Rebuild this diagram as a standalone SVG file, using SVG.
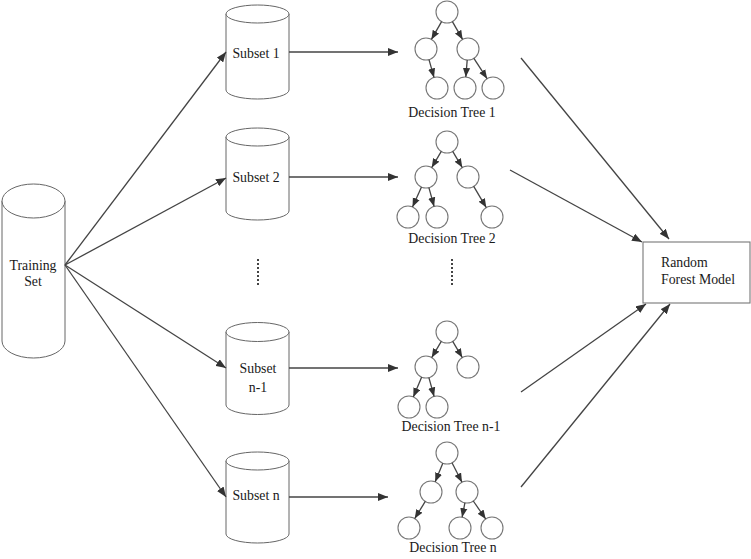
<svg xmlns="http://www.w3.org/2000/svg" width="751" height="559" viewBox="0 0 751 559">
<defs>
<marker id="ah" viewBox="0 0 10 8" refX="10" refY="4" markerWidth="10" markerHeight="8" markerUnits="userSpaceOnUse" orient="auto">
<path d="M0,0 L10,4 L0,8 Z" fill="#333"/>
</marker>
<marker id="ahs" viewBox="0 0 10 8" refX="10" refY="4" markerWidth="9" markerHeight="8" markerUnits="userSpaceOnUse" orient="auto">
<path d="M0,0 L10,4 L0,8 Z" fill="#333"/>
</marker>
</defs>
<style>
text{font-family:"Liberation Serif","Times New Roman",serif;font-size:13.8px;fill:#1a1a1a;text-anchor:middle}
.cyl{fill:#fff;stroke:#666;stroke-width:1}
.c{fill:#fff;stroke:#777;stroke-width:1.1}
.e{stroke:#444;stroke-width:1.3;fill:none;marker-end:url(#ah)}
.t{stroke:#444;stroke-width:1.3;fill:none;marker-end:url(#ahs)}
.dot{stroke:#444;stroke-width:2;stroke-dasharray:2 2}
</style>
<rect width="751" height="559" fill="#fff"/>

<g id="training">
<path class="cyl" d="M2,201 A31.5,17 0 0 1 65,201 L65,341 A31.5,17 0 0 1 2,341 Z"/>
<path class="cyl" fill="none" d="M2,201 A31.5,17 0 0 0 65,201"/>
<text x="33" y="270">Training</text>
<text x="33" y="286">Set</text>
</g>

<g id="subset1">
<path class="cyl" d="M226,14 A31.5,9 0 0 1 289,14 L289,90 A31.5,9 0 0 1 226,90 Z"/>
<path class="cyl" d="M226,14 A31.5,9 0 0 0 289,14"/>
<text x="256" y="58">Subset 1</text>
</g>
<g id="subset2">
<path class="cyl" d="M226,137 A31.5,9 0 0 1 289,137 L289,211 A31.5,9 0 0 1 226,211 Z"/>
<path class="cyl" d="M226,137 A31.5,9 0 0 0 289,137"/>
<text x="256" y="182">Subset 2</text>
</g>
<g id="subsetn1">
<path class="cyl" d="M226,332 A31.5,9.5 0 0 1 289,332 L289,405 A31.5,9.5 0 0 1 226,405 Z"/>
<path class="cyl" d="M226,332 A31.5,9.5 0 0 0 289,332"/>
<text x="258" y="373">Subset</text>
<text x="258" y="392">n-1</text>
</g>
<g id="subsetn">
<path class="cyl" d="M226,461 A31.5,9 0 0 1 289,461 L289,534 A31.5,9 0 0 1 226,534 Z"/>
<path class="cyl" d="M226,461 A31.5,9 0 0 0 289,461"/>
<text x="256" y="500">Subset n</text>
</g>

<g id="tree1">
<circle class="c" cx="447" cy="12" r="11"/>
<circle class="c" cx="426" cy="49" r="11"/>
<circle class="c" cx="468" cy="49" r="11"/>
<circle class="c" cx="437" cy="88" r="11"/>
<circle class="c" cx="465" cy="88" r="11"/>
<circle class="c" cx="493" cy="88" r="11"/>
<line class="t" x1="441.6" y1="21.6" x2="431.4" y2="39.4"/>
<line class="t" x1="452.4" y1="21.6" x2="462.6" y2="39.4"/>
<line class="t" x1="429" y1="59.6" x2="434" y2="77.4"/>
<line class="t" x1="467.2" y1="60" x2="465.8" y2="77"/>
<line class="t" x1="473.9" y1="58.3" x2="487.1" y2="78.7"/>
<text x="452" y="117">Decision Tree 1</text>
</g>
<g id="tree2">
<circle class="c" cx="447" cy="142" r="11"/>
<circle class="c" cx="426" cy="177" r="11"/>
<circle class="c" cx="468" cy="177" r="11"/>
<circle class="c" cx="408" cy="217" r="11"/>
<circle class="c" cx="437" cy="217" r="11"/>
<circle class="c" cx="492" cy="217" r="11"/>
<line class="t" x1="441.3" y1="151.4" x2="431.7" y2="167.6"/>
<line class="t" x1="452.7" y1="151.4" x2="462.3" y2="167.6"/>
<line class="t" x1="421.5" y1="187" x2="412.5" y2="207"/>
<line class="t" x1="428.9" y1="187.6" x2="434.1" y2="206.4"/>
<line class="t" x1="473.7" y1="186.4" x2="486.3" y2="207.6"/>
<text x="452" y="243">Decision Tree 2</text>
</g>
<g id="treen1">
<circle class="c" cx="447" cy="332" r="11"/>
<circle class="c" cx="426" cy="367" r="11"/>
<circle class="c" cx="468" cy="367" r="11"/>
<circle class="c" cx="409" cy="407" r="11"/>
<circle class="c" cx="437" cy="407" r="11"/>
<line class="t" x1="441.3" y1="341.4" x2="431.7" y2="357.6"/>
<line class="t" x1="452.7" y1="341.4" x2="462.3" y2="357.6"/>
<line class="t" x1="421.7" y1="377.1" x2="413.3" y2="396.9"/>
<line class="t" x1="428.9" y1="377.6" x2="434.1" y2="396.4"/>
<text x="451" y="431">Decision Tree n-1</text>
</g>
<g id="treen">
<circle class="c" cx="447" cy="453" r="11"/>
<circle class="c" cx="431" cy="492" r="11"/>
<circle class="c" cx="467" cy="492" r="11"/>
<circle class="c" cx="409" cy="528" r="11"/>
<circle class="c" cx="460" cy="528" r="11"/>
<circle class="c" cx="492" cy="528" r="11"/>
<line class="t" x1="442.8" y1="463.2" x2="435.2" y2="481.8"/>
<line class="t" x1="452" y1="462.8" x2="462" y2="482.2"/>
<line class="t" x1="425.3" y1="501.4" x2="414.7" y2="518.6"/>
<line class="t" x1="464.9" y1="502.8" x2="462.1" y2="517.2"/>
<line class="t" x1="473.3" y1="501" x2="485.7" y2="519"/>
<text x="453" y="552">Decision Tree n</text>
</g>

<g id="rf">
<rect x="643" y="242" width="107" height="61" fill="#fff" stroke="#777" stroke-width="1.1"/>
<text x="661" y="267" style="text-anchor:start">Random</text>
<text x="661" y="284" style="text-anchor:start">Forest Model</text>
</g>

<g id="ellipsis">
<line class="dot" x1="258" y1="259" x2="258" y2="286"/>
<line class="dot" x1="452" y1="259" x2="452" y2="286"/>
</g>

<g id="connectors">
<line class="e" x1="65" y1="265" x2="226" y2="52"/>
<line class="e" x1="65" y1="265" x2="226" y2="178"/>
<line class="e" x1="65" y1="265" x2="226" y2="368"/>
<line class="e" x1="65" y1="265" x2="226" y2="497"/>
<line class="e" x1="289" y1="52" x2="398" y2="52"/>
<line class="e" x1="289" y1="177" x2="398" y2="177"/>
<line class="e" x1="289" y1="368" x2="398" y2="368"/>
<line class="e" x1="289" y1="497" x2="388" y2="497"/>
<line class="e" x1="521" y1="58" x2="669" y2="239"/>
<line class="e" x1="510" y1="170" x2="642" y2="242"/>
<line class="e" x1="521" y1="392" x2="646" y2="304"/>
<line class="e" x1="521" y1="487" x2="670" y2="304"/>
</g>
</svg>
